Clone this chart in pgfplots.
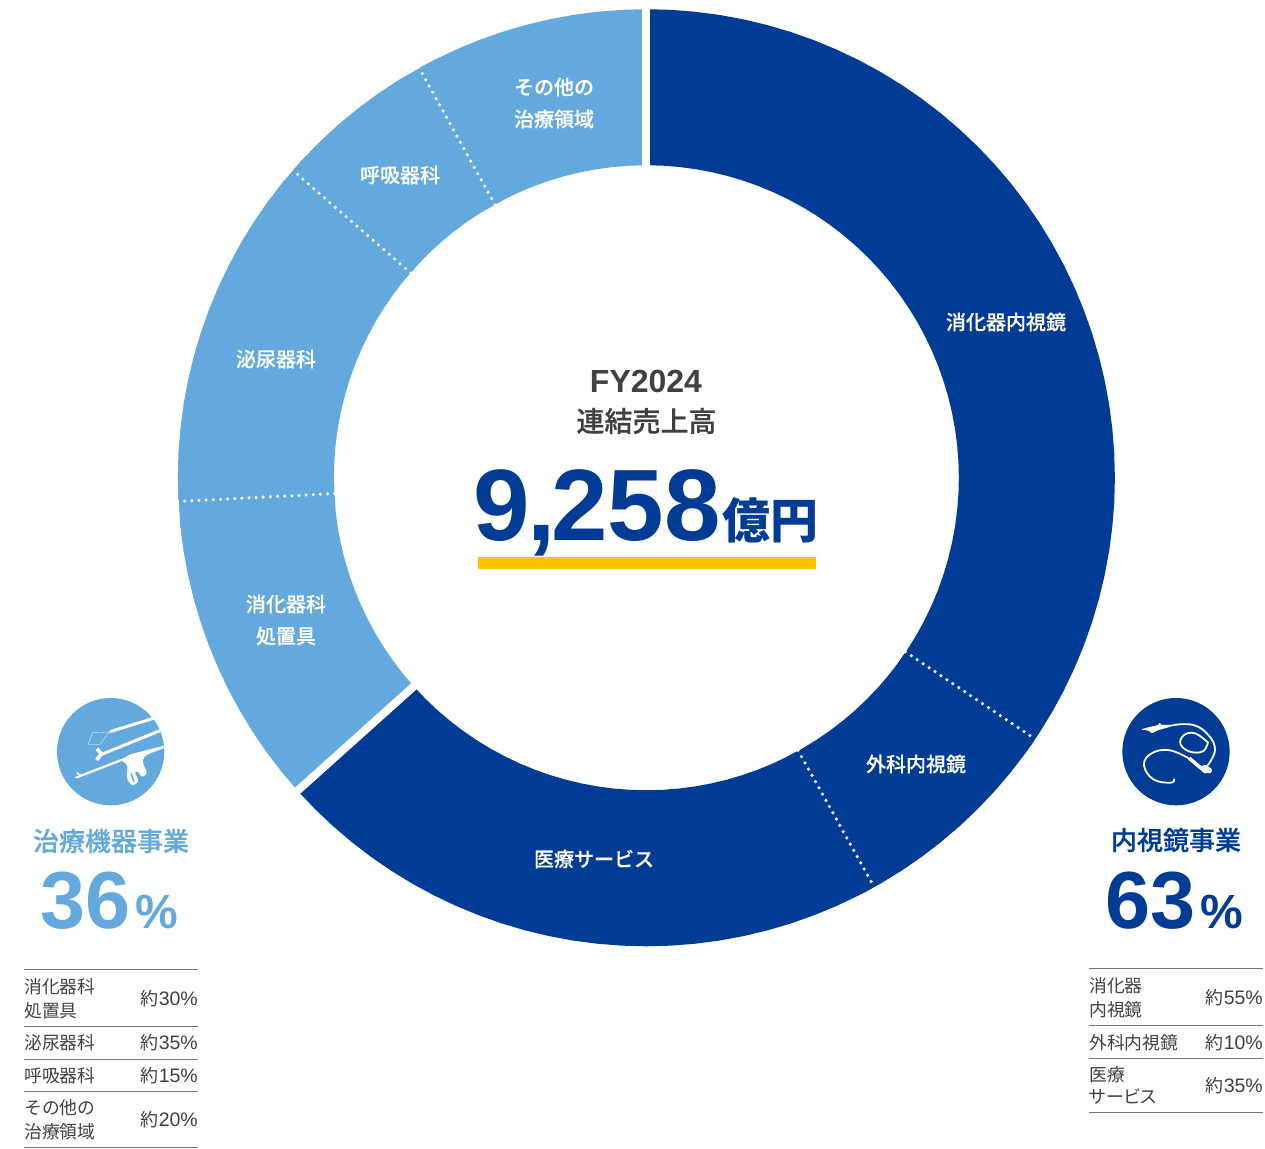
\documentclass[border=0pt]{standalone}
\usepackage{fontspec}
\usepackage{pgfplots}
\pgfplotsset{compat=1.18}
\setmainfont{Liberation Sans}
\newfontfamily\J{Noto Sans CJK JP}
\newfontfamily\Jm[FakeBold=0.35]{Noto Sans CJK JP Medium}
\newfontfamily\Jh[FakeBold=0.6]{Noto Sans CJK JP Medium}
\newfontfamily\Jp[RawFeature=+palt]{Noto Sans CJK JP}
\definecolor{dark}{HTML}{003C96}
\definecolor{light}{HTML}{64A9DD}
\definecolor{ink}{HTML}{404040}
\definecolor{rule}{HTML}{757575}
\definecolor{bar}{HTML}{FFC000}
\newcommand\Fs[1]{\fontsize{#1}{#1}\selectfont}
\newcommand\Lab[3]{\node[text=white,anchor=center,inner sep=0pt] at (#1,#2+1) {\Jm\Fs{20}#3};}
\newcommand\Cell[3]{\node[text=ink,anchor=west,inner sep=0pt] at (#1,#2+1) {\J\Fs{17.8}#3};}
\newcommand\Val[3]{\node[text=ink,anchor=east,inner sep=0pt] at (#1,#2+1) {{\J\Fs{18}約}\Fs{19.5}#3\%};}
\begin{document}
\begin{tikzpicture}
\begin{axis}[
  at={(0,0)},anchor=south west,scale only axis,width=1265pt,height=1148pt,
  xmin=-646.3,xmax=618.7,ymin=-670.2,ymax=477.8,hide axis,clip=false,
  ring/.style={data cs=polar,line width=156pt,line cap=butt,line join=miter,no markers},
  dots/.style={data cs=polar,white,line width=3.5pt,line cap=round,dash pattern=on 0pt off 7.15pt,no markers},
  gap/.style={data cs=polar,white,line width=8pt,no markers}]
% 消化器内視鏡
\addplot[ring,dark] coordinates {(90,390.5)(87,390.5)(84,390.5)(81,390.5)(78,390.5)(75,390.5)(72,390.5)(69,390.5)(66,390.5)(63,390.5)(60,390.5)(57,390.5)(54,390.5)(51,390.5)(48,390.5)(45,390.5)(42,390.5)(39,390.5)(36,390.5)(33,390.5)(30,390.5)(27,390.5)(24,390.5)(21,390.5)(18,390.5)(15,390.5)(12,390.5)(9,390.5)(6,390.5)(3,390.5)(0,390.5)(-3,390.5)(-6,390.5)(-9,390.5)(-12,390.5)(-15,390.5)(-18,390.5)(-21,390.5)(-24,390.5)(-27,390.5)(-30,390.5)(-33,390.5)(-35.9,390.5)};
% 外科内視鏡
\addplot[ring,dark] coordinates {(-33.9,390.5)(-36,390.5)(-39,390.5)(-42,390.5)(-45,390.5)(-48,390.5)(-51,390.5)(-54,390.5)(-57,390.5)(-60,390.5)(-62.9,390.5)};
% 医療サービス
\addplot[ring,dark] coordinates {(-60.9,390.5)(-63,390.5)(-66,390.5)(-69,390.5)(-72,390.5)(-75,390.5)(-78,390.5)(-81,390.5)(-84,390.5)(-87,390.5)(-90,390.5)(-93,390.5)(-96,390.5)(-99,390.5)(-102,390.5)(-105,390.5)(-108,390.5)(-111,390.5)(-114,390.5)(-117,390.5)(-120,390.5)(-123,390.5)(-126,390.5)(-129,390.5)(-132,390.5)(-135,390.5)(-138.1,390.5)};
% 消化器科処置具
\addplot[ring,light] coordinates {(-138.1,390.5)(-141,390.5)(-144,390.5)(-147,390.5)(-150,390.5)(-153,390.5)(-156,390.5)(-159,390.5)(-162,390.5)(-165,390.5)(-168,390.5)(-171,390.5)(-174,390.5)(-179.1,390.5)};
% 泌尿器科
\addplot[ring,light] coordinates {(-177.1,390.5)(-180,390.5)(-183,390.5)(-186,390.5)(-189,390.5)(-192,390.5)(-195,390.5)(-198,390.5)(-201,390.5)(-204,390.5)(-207,390.5)(-210,390.5)(-213,390.5)(-216,390.5)(-219,390.5)(-223,390.5)};
% 呼吸器科
\addplot[ring,light] coordinates {(-221,390.5)(-223,390.5)(-226,390.5)(-229,390.5)(-232,390.5)(-235,390.5)(-238,390.5)(-243,390.5)};
% その他の治療領域
\addplot[ring,light] coordinates {(-241,390.5)(-243,390.5)(-246,390.5)(-249,390.5)(-252,390.5)(-255,390.5)(-258,390.5)(-261,390.5)(-264,390.5)(-267,390.5)(-270,390.5)};
\addplot[gap] coordinates {(90,306)(90,474)};
\addplot[gap] coordinates {(-138.1,306)(-138.1,474)};
\addplot[dots] coordinates {(-33.9,312)(-33.9,468)};
\addplot[dots] coordinates {(-60.9,312)(-60.9,468)};
\addplot[dots] coordinates {(-177.1,312)(-177.1,468)};
\addplot[dots] coordinates {(-221,312)(-221,468)};
\addplot[dots] coordinates {(-241,312)(-241,468)};
\end{axis}
\begin{scope}[yshift=1148pt,x=1pt,y=-1pt]
\Lab{1006}{321}{消化器内視鏡}
\Lab{916}{763}{外科内視鏡}
\Lab{594}{858}{医療サービス}
\Lab{286}{603}{消化器科}
\Lab{286}{635}{処置具}
\Lab{276}{358}{泌尿器科}
\Lab{400}{174}{呼吸器科}
\Lab{554}{86}{その他の}
\Lab{554}{118}{治療領域}
% centre
\node[text=ink,inner sep=0pt] at (646,381) {\Fs{32}\bfseries FY2024};
\node[text=ink,inner sep=0pt] at (646.5,421) {\Jh\Fs{28}連結売上高};
\node[text=dark,anchor=base west,inner sep=0pt] at (473.5,541) {\Fs{101.5}\bfseries 9\kern-.03em,\kern-.04em 258};
\node[text=dark,anchor=base west,inner sep=0pt] at (722,539) {\J\Fs{48}\bfseries 億円};
\fill[bar] (477.5,557) rectangle (816,569);
% left block
\node[text=light,inner sep=0pt] at (111,841) {\Jh\Fs{26}治療機器事業};
\node[text=light,anchor=base west,inner sep=0pt] at (40.5,929) {\Fs{81}\bfseries 36};
\node[text=light,anchor=base west,inner sep=0pt] at (135,929) {\Fs{48}\bfseries\%};
\foreach \y in {970,1026,1059,1091,1147}{\draw[rule,line width=1pt] (24,\y)--(198,\y);}
\Cell{24}{986}{消化器科}\Cell{24}{1010}{処置具}\Val{198}{998}{30}
\Cell{24}{1042}{泌尿器科}\Val{198}{1042}{35}
\Cell{24}{1075}{呼吸器科}\Val{198}{1075}{15}
\Cell{24}{1107}{その他の}\Cell{24}{1131}{治療領域}\Val{198}{1119}{20}
% right block
\node[text=dark,inner sep=0pt] at (1176,840) {\Jh\Fs{26}内視鏡事業};
\node[text=dark,anchor=base west,inner sep=0pt] at (1105.5,929) {\Fs{81}\bfseries 63};
\node[text=dark,anchor=base west,inner sep=0pt] at (1200,929) {\Fs{48}\bfseries\%};
\foreach \y in {969,1025,1058,1112}{\draw[rule,line width=1pt] (1089,\y)--(1263,\y);}
\Cell{1089}{985}{消化器}\Cell{1089}{1009}{内視鏡}\Val{1263}{997}{55}
\Cell{1089}{1042}{外科内視鏡}\Val{1263}{1042}{10}
\Cell{1089}{1074}{医療}
\node[text=ink,anchor=west,inner sep=0pt] at (1089,1096) {\Jp\Fs{18}サービス};
\Val{1263}{1085}{35}
\end{scope}
% icon left (coordinates of a 3x crop)
\begin{scope}[xshift=20pt,yshift=458pt,x=0.33333pt,y=-0.33333pt]
\fill[light] (272,185) circle [x radius=161,y radius=161];
\begin{scope}
\clip (272,185) circle [x radius=161,y radius=161];
\draw[white,line width=3pt] (270,125)--(410,82);
\draw[white,line width=3pt] (245,193)--(430,118);
\draw[white,line width=3.6pt,line join=round] (231,176)--(244,192)--(230,210);
\draw[white,line width=2.2pt] (170,262)--(310,208);
\draw[white,line width=1.2pt] (170,248)--(182,256) (165,263)--(185,258);
\fill[white,rounded corners=2pt] (303,210)--(330,193)--(370,183)--(436,166)--(436,173)--(385,192)--(368,205)--(370,225)--(383,250)--(366,262)--(352,242)--(344,245)--(357,276)--(335,288)--(320,265)--(323,225)--cycle;
\draw[white!60!light,line width=0.6pt] (218,128)--(268,126)--(240,163)--(204,163)--cycle;
\draw[light,line width=1.4pt] (333,250)--(342,275);
\end{scope}
\end{scope}
% icon right
\begin{scope}[xshift=1090pt,yshift=458pt,x=0.33333pt,y=-0.33333pt]
\fill[dark] (258,185) circle [x radius=161,y radius=161];
\fill[white,rounded corners=1pt] (152,118)--(175,112)--(205,105)--(209,97)--(213,105)--(252,104)--(252,107)--(200,122)--(187,130)--(175,122)--cycle;
\draw[white,line width=1.8pt] plot[smooth,tension=0.7] coordinates {(250,105)(310,105)(355,135)(375,180)(352,228)};
\draw[white,line width=1.8pt] plot[smooth cycle,tension=0.8] coordinates {(345,150)(305,128)(272,148)(285,178)(330,187)(352,165)};
\draw[white,line width=1.8pt] plot[smooth,tension=0.7] coordinates {(305,210)(240,181)(185,190)(162,225)(190,268)(243,278)(252,266)};
\draw[white,line width=3.6pt] (298,205)--(340,240);
\fill[white,rounded corners=1pt] (326,232)--(345,224)--(366,237)--(364,249)--(342,250)--cycle;
\end{scope}
\pgfresetboundingbox
\path (0,0) rectangle (1265pt,1148pt);
\end{tikzpicture}
\end{document}
